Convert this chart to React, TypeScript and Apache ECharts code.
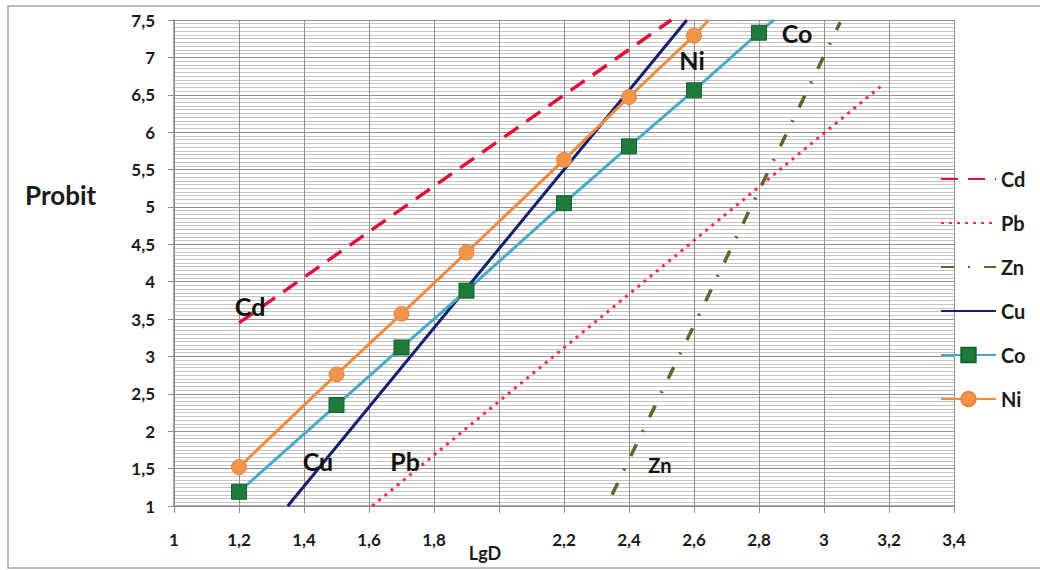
import React, { useEffect, useRef } from "react";
import * as echarts from "echarts";

const FONT = "Lato, 'Open Sans', sans-serif";

const cdData: [number, number][] = [[1.2, 3.45], [2.53, 7.5]];
const pbData: [number, number][] = [[1.61, 1.0], [3.185, 6.65]];
const znData: [number, number][] = [[2.348, 1.15], [3.05, 7.47]];
const cuData: [number, number][] = [[1.35, 1.0], [2.578, 7.5]];
const coX = [1.2, 1.5, 1.7, 1.9, 2.2, 2.4, 2.6, 2.8];
const coY = [1.19, 2.35, 3.12, 3.88, 5.05, 5.81, 6.56, 7.33];
const coTail: [number, number] = [2.845, 7.5];
const niX = [1.2, 1.5, 1.7, 1.9, 2.2, 2.4, 2.6];
const niY = [1.52, 2.76, 3.57, 4.39, 5.63, 6.47, 7.29];
const niTail: [number, number] = [2.645, 7.5];

const annotationNames = ["Cd", "Cu", "Pb", "Zn", "Ni", "Co"];
const annotationX = [1.234, 1.443, 1.711, 2.495, 2.594, 2.917];
const annotationY = [3.67, 1.6, 1.6, 1.55, 6.96, 7.33];
const annotationSize = [25, 25, 25, 20, 25, 25];

const legendNames = ["Cd", "Pb", "Zn", "Cu", "Co", "Ni"];
// tick label hidden behind the "LgD" axis title in the reference
const hiddenXTicks = [2];

const fmt = (v: number) => String(Math.round(v * 10) / 10).replace(".", ",");
const fmtX = (v: number) =>
  hiddenXTicks.some((h) => Math.abs(h - v) < 1e-6) ? "" : fmt(v);

export default function App() {
  const ref = useRef<HTMLDivElement>(null);
  useEffect(() => {
    if (!ref.current) return;
    const chart = echarts.init(ref.current, undefined, { renderer: "svg" });
    const coData: any[] = coX.map((x, i) => [x, coY[i]]);
    coData.push({ value: coTail, symbol: "none" });
    const niData: any[] = niX.map((x, i) => [x, niY[i]]);
    niData.push({ value: niTail, symbol: "none" });

    chart.setOption({
      animation: false,
      backgroundColor: "#ffffff",
      textStyle: { fontFamily: FONT },
      grid: { left: 174, right: 86, top: 20, bottom: 64, containLabel: false },
      xAxis: {
        type: "value",
        min: 1,
        max: 3.4,
        interval: 0.2,
        axisLine: { show: true, lineStyle: { color: "#8c8c8c", width: 1.5 } },
        axisTick: { show: true, length: 7, lineStyle: { color: "#8c8c8c" } },
        axisLabel: {
          formatter: fmtX,
          color: "#1a1a1a",
          fontWeight: "bold",
          fontSize: 17,
          fontFamily: FONT,
          margin: 25,
        },
        splitLine: { show: true, lineStyle: { color: "#8f8f8f", width: 1 } },
      },
      yAxis: {
        type: "value",
        min: 1,
        max: 7.5,
        interval: 0.5,
        axisLine: { show: true, lineStyle: { color: "#8c8c8c", width: 1.5 } },
        axisTick: { show: true, length: 6, lineStyle: { color: "#8c8c8c" } },
        axisLabel: {
          formatter: fmt,
          color: "#1a1a1a",
          fontWeight: "bold",
          fontSize: 17,
          fontFamily: FONT,
          margin: 19,
        },
        splitLine: { show: true, lineStyle: { color: "#8f8f8f", width: 1 } },
        minorTick: { show: false, splitNumber: 10 },
        minorSplitLine: { show: true, lineStyle: { color: "#c4c4c4", width: 1 } },
      },
      legend: {
        data: legendNames,
        orient: "vertical",
        left: 935,
        top: 164,
        itemWidth: 55,
        itemHeight: 18,
        itemGap: 24,
        textStyle: { fontSize: 20, fontWeight: "bold", color: "#1a1a1a", fontFamily: FONT },
      },
      series: [
        {
          name: "Cd",
          type: "line",
          data: cdData,
          symbol: "none",
          lineStyle: { color: "#e0103a", width: 3.5, type: [17, 10] },
          itemStyle: { color: "#e0103a", opacity: 0 },
        },
        {
          name: "Pb",
          type: "line",
          data: pbData,
          symbol: "none",
          lineStyle: { color: "#ff2a4a", width: 3, type: [3, 5] },
          itemStyle: { color: "#ff2a4a", opacity: 0 },
        },
        {
          name: "Zn",
          type: "line",
          data: znData,
          symbol: "none",
          lineStyle: { color: "#5a6a2c", width: 3.5, type: [13, 14, 2, 14] },
          itemStyle: { color: "#5a6a2c", opacity: 0 },
        },
        {
          name: "Cu",
          type: "line",
          data: cuData,
          symbol: "none",
          lineStyle: { color: "#14206e", width: 3 },
          itemStyle: { color: "#14206e", opacity: 0 },
        },
        {
          name: "Co",
          type: "line",
          data: coData,
          symbol: "rect",
          symbolSize: 15,
          lineStyle: { color: "#4aaac6", width: 3 },
          itemStyle: { color: "#1f7a3c", borderColor: "#15622e", borderWidth: 1 },
        },
        {
          name: "Ni",
          type: "line",
          data: niData,
          symbol: "circle",
          symbolSize: 15,
          lineStyle: { color: "#f08a3c", width: 3 },
          itemStyle: { color: "#f0954a", borderColor: "#e8843a", borderWidth: 1 },
        },
      ],
    });

    const annotationTexts = annotationNames.map((name, i) => {
      const p = chart.convertToPixel({ gridIndex: 0 }, [annotationX[i], annotationY[i]]) as number[];
      return {
        type: "text",
        id: "ann-" + name,
        x: p[0],
        y: p[1],
        z: 100,
        silent: true,
        style: {
          text: name,
          fontSize: annotationSize[i],
          fontWeight: "bold",
          fill: "#111111",
          fontFamily: FONT,
          align: "center",
          verticalAlign: "middle",
        },
      };
    });

    chart.setOption({
      graphic: [
        {
          type: "rect",
          id: "frame",
          shape: { x: 8, y: 6, width: 1040, height: 562 },
          style: { fill: "none", stroke: "#a6a6a6", lineWidth: 1.5 },
          silent: true,
        },
        {
          type: "text",
          id: "ytitle",
          x: 25,
          y: 195,
          style: {
            text: "Probit",
            fontSize: 26,
            fontWeight: "bold",
            fill: "#1a1a1a",
            fontFamily: FONT,
            verticalAlign: "middle",
          },
        },
        {
          type: "text",
          id: "xtitle",
          x: 485,
          y: 553,
          style: {
            text: "LgD",
            fontSize: 18,
            fontWeight: "bold",
            fill: "#1a1a1a",
            fontFamily: FONT,
            align: "center",
            verticalAlign: "middle",
          },
        },
        ...annotationTexts,
      ],
    });
    return () => chart.dispose();
  }, []);
  return (
    <div
      ref={ref}
      style={{ position: "fixed", left: 0, top: 0, width: 1040, height: 570 }}
    />
  );
}
